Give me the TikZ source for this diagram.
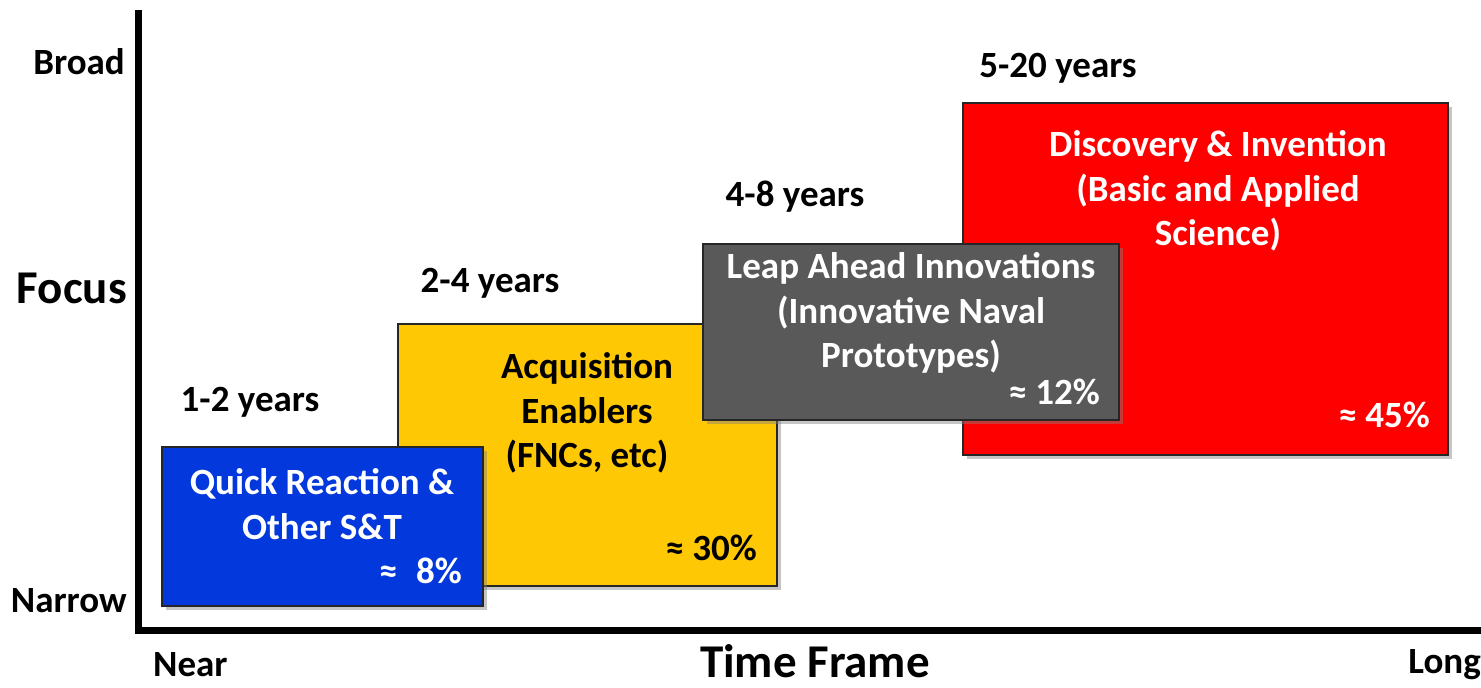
\documentclass[tikz,border=0pt]{standalone}
\usepackage{fontspec}
\setmainfont{Carlito}
\usetikzlibrary{shadows}

\definecolor{qrblue}{RGB}{3,57,220}
\definecolor{acqyellow}{RGB}{255,200,5}
\definecolor{leapgray}{RGB}{89,89,89}
\definecolor{direct}{RGB}{255,0,0}

\begin{document}
\begin{tikzpicture}[
x=1pt, y=-1pt,
every node/.style={font=\fontsize{37}{44.5}\selectfont\bfseries, inner sep=0pt},
box/.style={draw=black!85, line width=1.3pt, rectangle, drop shadow={shadow xshift=4pt, shadow yshift=-4pt, opacity=0.45}},
boxtext/.style={text=white, align=center},
pct/.style={text=white, anchor=east},
years/.style={anchor=center},
big/.style={font=\fontsize{47}{56}\selectfont\bfseries}
]

\useasboundingbox (0,0) rectangle (1481,688);

% axes
\coordinate (ytop) at (138,10);
\coordinate (origin) at (138,630);
\coordinate (xend) at (1481,630);
\draw[line width=7pt] (ytop) -- (origin) -- (xend);

\path
(125, 62) node[anchor=east] (broad) {Broad}
(127, 288) node[anchor=east, big] (focus) {Focus}
(127, 601) node[anchor=east] (narrow) {Narrow}
(153, 665) node[anchor=west] (near) {Near}
(815, 677) node[anchor=base, big] (timeframe) {Time Frame}
(1481, 665) node[anchor=east] (long) {Long}
;

% boxes
\node[box, fill=direct, minimum width=485pt, minimum height=352pt] (disc) at (1205.5, 279) {};
\node[box, fill=acqyellow, minimum width=379pt, minimum height=262pt] (acq) at (587.5, 455) {};
\node[box, fill=qrblue, minimum width=321pt, minimum height=159pt] (quick) at (322.5, 526.5) {};
\node[box, fill=leapgray, minimum width=416pt, minimum height=176pt] (leap) at (911, 332) {};

% box texts
\node[boxtext] (quicktxt) at (322, 504) {Quick Reaction \&\\Other S\&T};
\node[pct] (quickpct) at (462, 571) {≈\enspace 8\%};
\node[boxtext, text=black] (acqtxt) at (587, 413) {Acquisition\\Enablers\\(FNCs, etc)};
\node[pct, text=black] (acqpct) at (757, 548) {≈ 30\%};
\node[boxtext] (leaptxt) at (911, 313) {Leap Ahead Innovations\\(Innovative Naval\\Prototypes)};
\node[pct] (leappct) at (1100, 392) {≈ 12\%};
\node[boxtext] (disctxt) at (1218, 191) {Discovery \& Invention\\(Basic and Applied\\Science)};
\node[pct] (discpct) at (1430, 415) {≈ 45\%};

% year labels
\node[years] (y12) at (250, 402) {1-2 years};
\node[years] (y24) at (490, 283) {2-4 years};
\node[years] (y48) at (795, 197) {4-8 years};
\node[years] (y520) at (1058, 68) {5-20 years};

\end{tikzpicture}
\end{document}
